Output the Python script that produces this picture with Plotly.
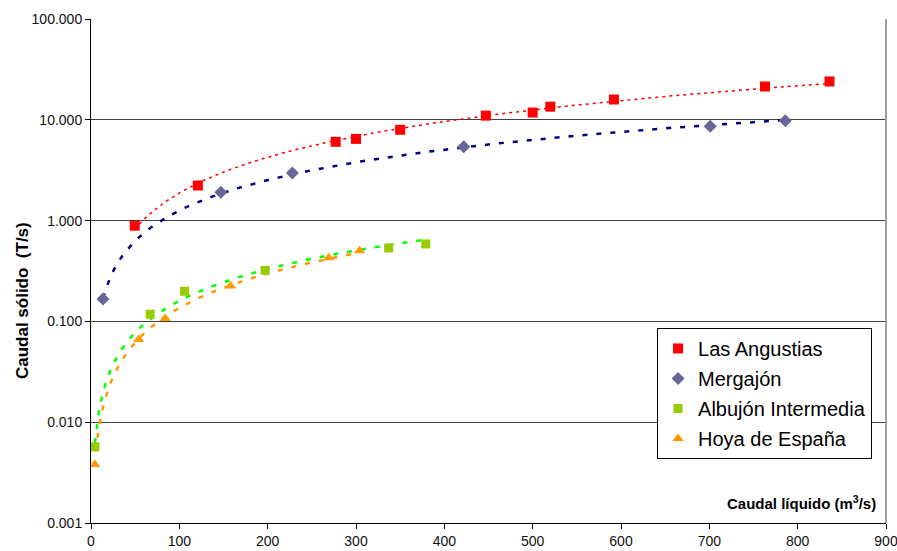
import numpy as np
import plotly.graph_objects as go

# ---- data ----
ang_x = [49.5, 121, 277, 300, 350, 447, 500, 520, 592, 763, 836]
ang_y = [0.89, 2.23, 6.05, 6.47, 7.96, 11.0, 11.8, 13.5, 15.9, 21.4, 24.0]

mer_x = [13.6, 147, 228, 422, 701, 786]
mer_y = [0.167, 1.91, 2.96, 5.39, 8.65, 9.78]

alb_x = [4.5, 67, 106, 197, 337, 379]
alb_y = [0.0057, 0.118, 0.199, 0.321, 0.535, 0.587]

hoy_x = [4.2, 54, 84, 158, 269, 304]
hoy_y = [0.0038, 0.066, 0.107, 0.224, 0.427, 0.503]

y_tickvals = [0.001, 0.01, 0.1, 1, 10, 100]
y_ticktext = ["0.001", "0.010", "0.100", "1.000", "10.000", "100.000"]
x_tickvals = [0, 100, 200, 300, 400, 500, 600, 700, 800, 900]

series = [
    ("Las Angustias", ang_x, ang_y, dict(symbol="square", color="#FF0000", size=10),
     dict(color="#FF0000", width=1.5, dash="3px,4px")),
    ("Mergajón", mer_x, mer_y, dict(symbol="diamond", color="#666699", size=10),
     dict(color="#000080", width=2.5, dash="5px,9px")),
    ("Albujón Intermedia", alb_x, alb_y, dict(symbol="square", color="#99CC00", size=9),
     dict(color="#00FF00", width=2.5, dash="5px,9px")),
    ("Hoya de España", hoy_x, hoy_y, dict(symbol="triangle-up", color="#FF9900", size=10),
     dict(color="#FF9900", width=2.5, dash="5px,9px")),
]

FONT = "Liberation Sans, Arial, sans-serif"

fig = go.Figure()

# power trendlines (least squares in log-log space, like Excel's power trendline)
for name, xs, ys, mk, ln in series:
    b, a = np.polyfit(np.log(xs), np.log(ys), 1)
    tx = np.linspace(min(xs), max(xs), 200)
    ty = np.exp(a) * tx ** b
    fig.add_trace(go.Scatter(x=tx, y=ty, mode="lines", line=ln, showlegend=False,
                             hoverinfo="skip"))

for i, (name, xs, ys, mk, ln) in enumerate(series):
    fig.add_trace(go.Scatter(x=xs, y=ys, mode="markers", name=name, marker=mk,
                             legendgroup=f"g{i}"))

fig.update_layout(
    width=897, height=551,
    margin=dict(l=91, r=11, t=19, b=28, autoexpand=False),
    paper_bgcolor="white", plot_bgcolor="white",
    font=dict(family=FONT, size=14, color="#000"),
    showlegend=True,
    legend=dict(
        x=0.712, y=0.387, xanchor="left", yanchor="top",
        bgcolor="white", bordercolor="#000", borderwidth=1,
        font=dict(size=20, color="#000", family=FONT),
        tracegroupgap=1, traceorder="grouped",
        itemwidth=30,
    ),
)

fig.update_xaxes(
    range=[0, 900], tickvals=x_tickvals, showgrid=False, zeroline=False,
    showline=True, linecolor="#000", linewidth=1, automargin=False,
    ticks="outside", ticklen=5, tickcolor="#000", ticklabeloverflow="allow",
    tickfont=dict(size=14, color="#111", family=FONT),
)
fig.update_yaxes(
    type="log", range=[-3, 2], tickvals=y_tickvals, ticktext=y_ticktext,
    showgrid=True, gridcolor="#404040", gridwidth=1, zeroline=False,
    showline=True, linecolor="#000", linewidth=1, automargin=False,
    ticks="outside", ticklen=5, tickcolor="#000", ticklabeloverflow="allow",
    tickfont=dict(size=14, color="#111", family=FONT),
)

# right border of plot area
fig.add_shape(type="line", xref="paper", yref="paper", x0=1, x1=1, y0=0, y1=1,
              line=dict(color="#A0A0A0", width=2))

fig.add_annotation(text="<b>Caudal líquido (m<sup>3</sup>/s)</b>", xref="paper", yref="paper",
                   x=0.99, y=0.04, xanchor="right", yanchor="middle", showarrow=False,
                   font=dict(size=15, color="#000", family=FONT))
fig.add_annotation(text="<b>Caudal sólido  (T/s)</b>", xref="paper", yref="paper",
                   x=-0.087, y=0.442, xanchor="center", yanchor="middle", showarrow=False,
                   textangle=-90,
                   font=dict(size=17, color="#000", family=FONT))

fig.write_html("out.html", config={"displayModeBar": False},
               post_script="document.body.style.margin='0';")
